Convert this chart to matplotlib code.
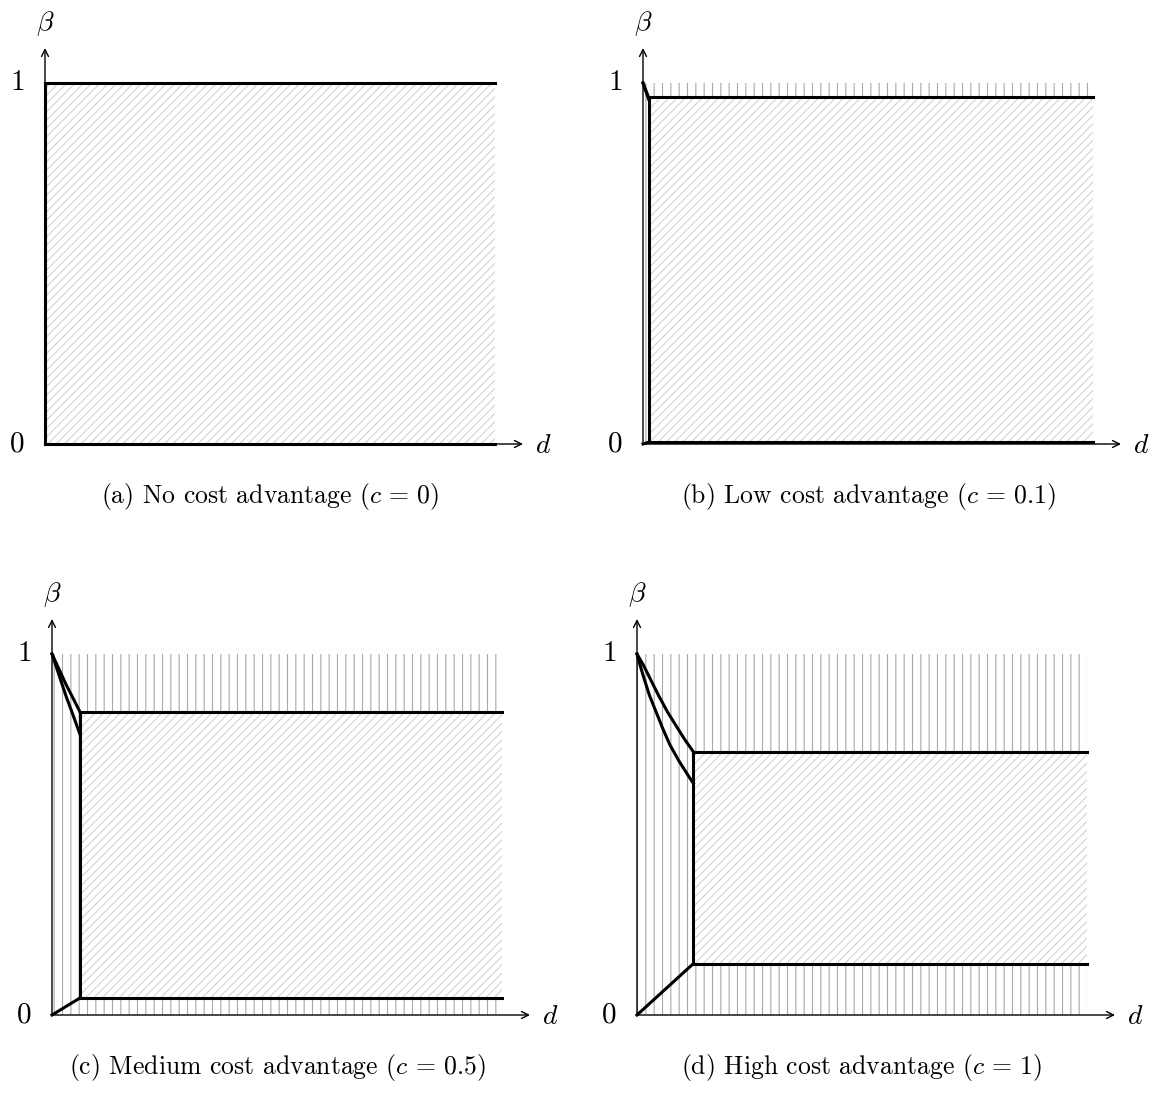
import matplotlib
matplotlib.use("Agg")
import matplotlib.pyplot as plt
from matplotlib.patches import Rectangle

plt.rcParams['font.family'] = 'serif'
plt.rcParams['font.serif'] = ['cmr10']
plt.rcParams['mathtext.fontset'] = 'cm'
plt.rcParams['axes.formatter.use_mathtext'] = True
plt.rcParams['hatch.linewidth'] = 0.8

# panel data (d on [0, 1], beta on [0, 1])
captions = [r'(a) No cost advantage ($c\,=\,0$)',
            r'(b) Low cost advantage ($c\,=\,0.1$)',
            r'(c) Medium cost advantage ($c\,=\,0.5$)',
            r'(d) High cost advantage ($c\,=\,1$)']
d_max = 1.0
switch_d = [0.0, 0.0125, 0.062, 0.125]
top_beta = [1.0, 0.96, 0.84, 0.729]
bottom_beta = [0.0, 0.005, 0.047, 0.142]

upper_curve_d = [[0.0],
                 [0.0, 0.0125],
                 [0.0, 0.016, 0.031, 0.047, 0.062],
                 [0.0, 0.0141, 0.0289, 0.0474, 0.0674, 0.0881, 0.1067, 0.1252]]
upper_curve_beta = [[1.0],
                    [1.0, 0.96],
                    [1.0, 0.957, 0.916, 0.877, 0.84],
                    [1.0, 0.9695, 0.9326, 0.8864, 0.8403, 0.7987, 0.7618, 0.7294]]
lower_curve_d = [[0.0],
                 [0.0, 0.0125],
                 [0.0, 0.016, 0.031, 0.047, 0.062],
                 [0.0, 0.0067, 0.0156, 0.0274, 0.0422, 0.0570, 0.0733, 0.0941,
                  0.1178, 0.1252]]
lower_curve_beta = [[1.0],
                    [1.0, 0.955],
                    [1.0, 0.94, 0.884, 0.83, 0.778],
                    [1.0, 0.9695, 0.9326, 0.8864, 0.8403, 0.7941, 0.7479, 0.7018,
                     0.6556, 0.6418]]

# pixel placement of each panel origin
W, H = 1159, 1107
origins = [(45, 444), (643, 444), (52, 1015), (637, 1015)]
pw, ph = 450, 361

fig = plt.figure(figsize=(W / 100, H / 100), dpi=100)

for i in range(4):
    ox, oy = origins[i]
    ax = fig.add_axes([ox / W, (H - oy) / H, pw / W, ph / H])
    ax.set_xlim(0, d_max)
    ax.set_ylim(0, 1)
    ax.axis('off')

    xs, yt, yb = switch_d[i], top_beta[i], bottom_beta[i]

    # vertical hatch everywhere outside the middle box
    if xs > 0:
        ax.add_patch(Rectangle((0, 0), d_max, 1, facecolor='none',
                               edgecolor='#a8a8a8', hatch='||', lw=0, zorder=1))
    # middle box with light diagonal hatch
    ax.add_patch(Rectangle((xs, yb), d_max - xs, yt - yb, facecolor='white',
                           edgecolor='#d2d2d2', hatch='////', lw=0, zorder=2))

    kw = dict(color='black', lw=2.2, solid_capstyle='projecting',
              solid_joinstyle='miter', zorder=4, clip_on=False)
    ax.plot([xs, d_max], [yt, yt], **kw)
    ax.plot([xs, d_max], [yb, yb], **kw)
    ax.plot([xs, xs], [yb, yt], **kw)
    ax.plot([0, xs], [0, yb], **kw)
    ax.plot(upper_curve_d[i], upper_curve_beta[i], **kw)
    ax.plot(lower_curve_d[i], lower_curve_beta[i], **kw)

    # axes with arrows
    arr = dict(arrowstyle='->,head_length=0.5,head_width=0.25', lw=1.0,
               color='black', shrinkA=0, shrinkB=0)
    ax.annotate('', xy=(d_max + 28 / pw, 0), xytext=(0, 0),
                arrowprops=arr, annotation_clip=False, zorder=3)
    ax.annotate('', xy=(0, 1 + 35 / ph), xytext=(0, 0),
                arrowprops=arr, annotation_clip=False, zorder=3)

    ax.text(-0.061, 1, '1', fontsize=21, ha='center', va='center')
    ax.text(-0.061, 0, '0', fontsize=21, ha='center', va='center')
    ax.text(0, 1.165, r'$\beta$', fontsize=20, ha='center', va='center')
    ax.text(1.106, -0.005, r'$d$', fontsize=20, ha='center', va='center')
    ax.text(0.5, -0.146, captions[i], fontsize=18.5, ha='center', va='center')

fig.savefig('out.png', dpi=100)
